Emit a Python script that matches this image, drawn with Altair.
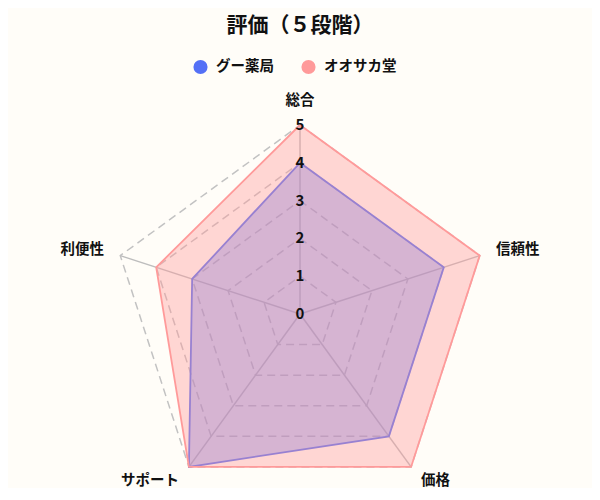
import altair as alt
import pandas as pd

categories = ["総合", "信頼性", "価格", "サポート", "利便性"]
series_names = ["グー薬局", "オオサカ堂"]
goo_values = [4, 4, 4, 5, 3]
osaka_values = [5, 5, 5, 5, 4]
grid_levels = [1, 2, 3, 4, 5]
tick_values = [0, 1, 2, 3, 4, 5]
colors = ["#5470f6", "#ff9a9a"]

FONT = "Noto Sans CJK JP"
N = len(categories)
R_MAX = 5
LABEL_R = 5.45


def ring(values, name):
    # closed polygon: first vertex repeated at the end
    return [{"series": name, "k": k, "idx": k % N, "r": values[k % N]} for k in range(N + 1)]


poly_df = pd.DataFrame(ring(goo_values, series_names[0]) + ring(osaka_values, series_names[1]))
grid_df = pd.DataFrame([row | {"level": lv} for lv in grid_levels for row in ring([lv] * N, "grid")])
spoke_df = pd.DataFrame([{"idx": i, "r": r} for i in range(N) for r in (0, R_MAX)])
tick_df = pd.DataFrame({"idx": 0, "r": tick_values, "txt": [str(v) for v in tick_values]})
label_df = pd.DataFrame({"idx": list(range(N)), "r": LABEL_R, "txt": categories})
legend_df = pd.DataFrame({"series": series_names, "x": 100, "y": 100})

xs = alt.Scale(domain=[-7.725, 7.725], nice=False, zero=False)
ys = alt.Scale(domain=[-4.6, 6.5], nice=False, zero=False)


def polar(chart):
    return chart.transform_calculate(
        ang=f"datum.idx * 2 * PI / {N}",
    ).transform_calculate(
        x="datum.r * sin(datum.ang)",
        y="datum.r * cos(datum.ang)",
    ).encode(
        x=alt.X("x:Q", scale=xs, axis=None),
        y=alt.Y("y:Q", scale=ys, axis=None),
    )


grid = polar(alt.Chart(grid_df).mark_line(
    stroke="#c2c2c2", strokeWidth=1.5, strokeDash=[8, 5]
)).encode(detail="level:N", order="k:Q")

spokes = polar(alt.Chart(spoke_df).mark_line(
    stroke="#bdbdbd", strokeWidth=1.5
)).encode(detail="idx:N", order="r:Q")

polys = []
for name, col in zip(series_names, colors):
    polys.append(polar(alt.Chart(poly_df).transform_filter(
        alt.datum.series == name
    ).mark_line(
        stroke=col, strokeWidth=1.8, fill=col, fillOpacity=0.4
    )).encode(order="k:Q"))

ticks = polar(alt.Chart(tick_df).mark_text(
    font=FONT, fontSize=15, fontWeight="bold", color="#111", align="center", baseline="middle"
)).encode(text="txt:N")

lab_style = dict(font=FONT, fontSize=14.5, fontWeight="bold", color="#111")
lab_top = polar(alt.Chart(label_df).transform_filter(alt.datum.idx == 0).mark_text(
    align="center", baseline="bottom", **lab_style)).encode(text="txt:N")
lab_right = polar(alt.Chart(label_df).transform_filter("datum.idx == 1 || datum.idx == 2").mark_text(
    align="left", baseline="middle", **lab_style)).encode(text="txt:N")
lab_left = polar(alt.Chart(label_df).transform_filter("datum.idx == 3 || datum.idx == 4").mark_text(
    align="right", baseline="middle", **lab_style)).encode(text="txt:N")

legend_pts = alt.Chart(legend_df).mark_point(filled=True, opacity=1, clip=True).encode(
    x=alt.X("x:Q", scale=xs, axis=None),
    y=alt.Y("y:Q", scale=ys, axis=None),
    color=alt.Color(
        "series:N",
        scale=alt.Scale(domain=series_names, range=colors),
        legend=alt.Legend(
            title=None, orient="none", direction="horizontal",
            legendX=185, legendY=-9,
            symbolType="circle", symbolSize=200, symbolStrokeWidth=0,
            labelFont=FONT, labelFontSize=14.5, labelFontWeight="bold", labelColor="#111",
            labelOffset=8, columnPadding=27,
        ),
    ),
)

chart = alt.layer(
    grid, spokes, *polys, ticks, lab_top, lab_right, lab_left, legend_pts
).properties(
    width=584,
    height=419.6,
    autosize=alt.AutoSizeParams(type="none"),
    padding={"left": 0, "top": 60.3, "right": 0, "bottom": 0},
    title=alt.TitleParams(
        "評価（５段階）", font=FONT, fontSize=21, fontWeight="bold",
        color="#111", anchor="middle", offset=23,
    ),
).configure(
    background="#fffdf8", font=FONT
).configure_view(stroke=None)

chart.save("out.html", embed_options={"renderer": "svg", "actions": False})
